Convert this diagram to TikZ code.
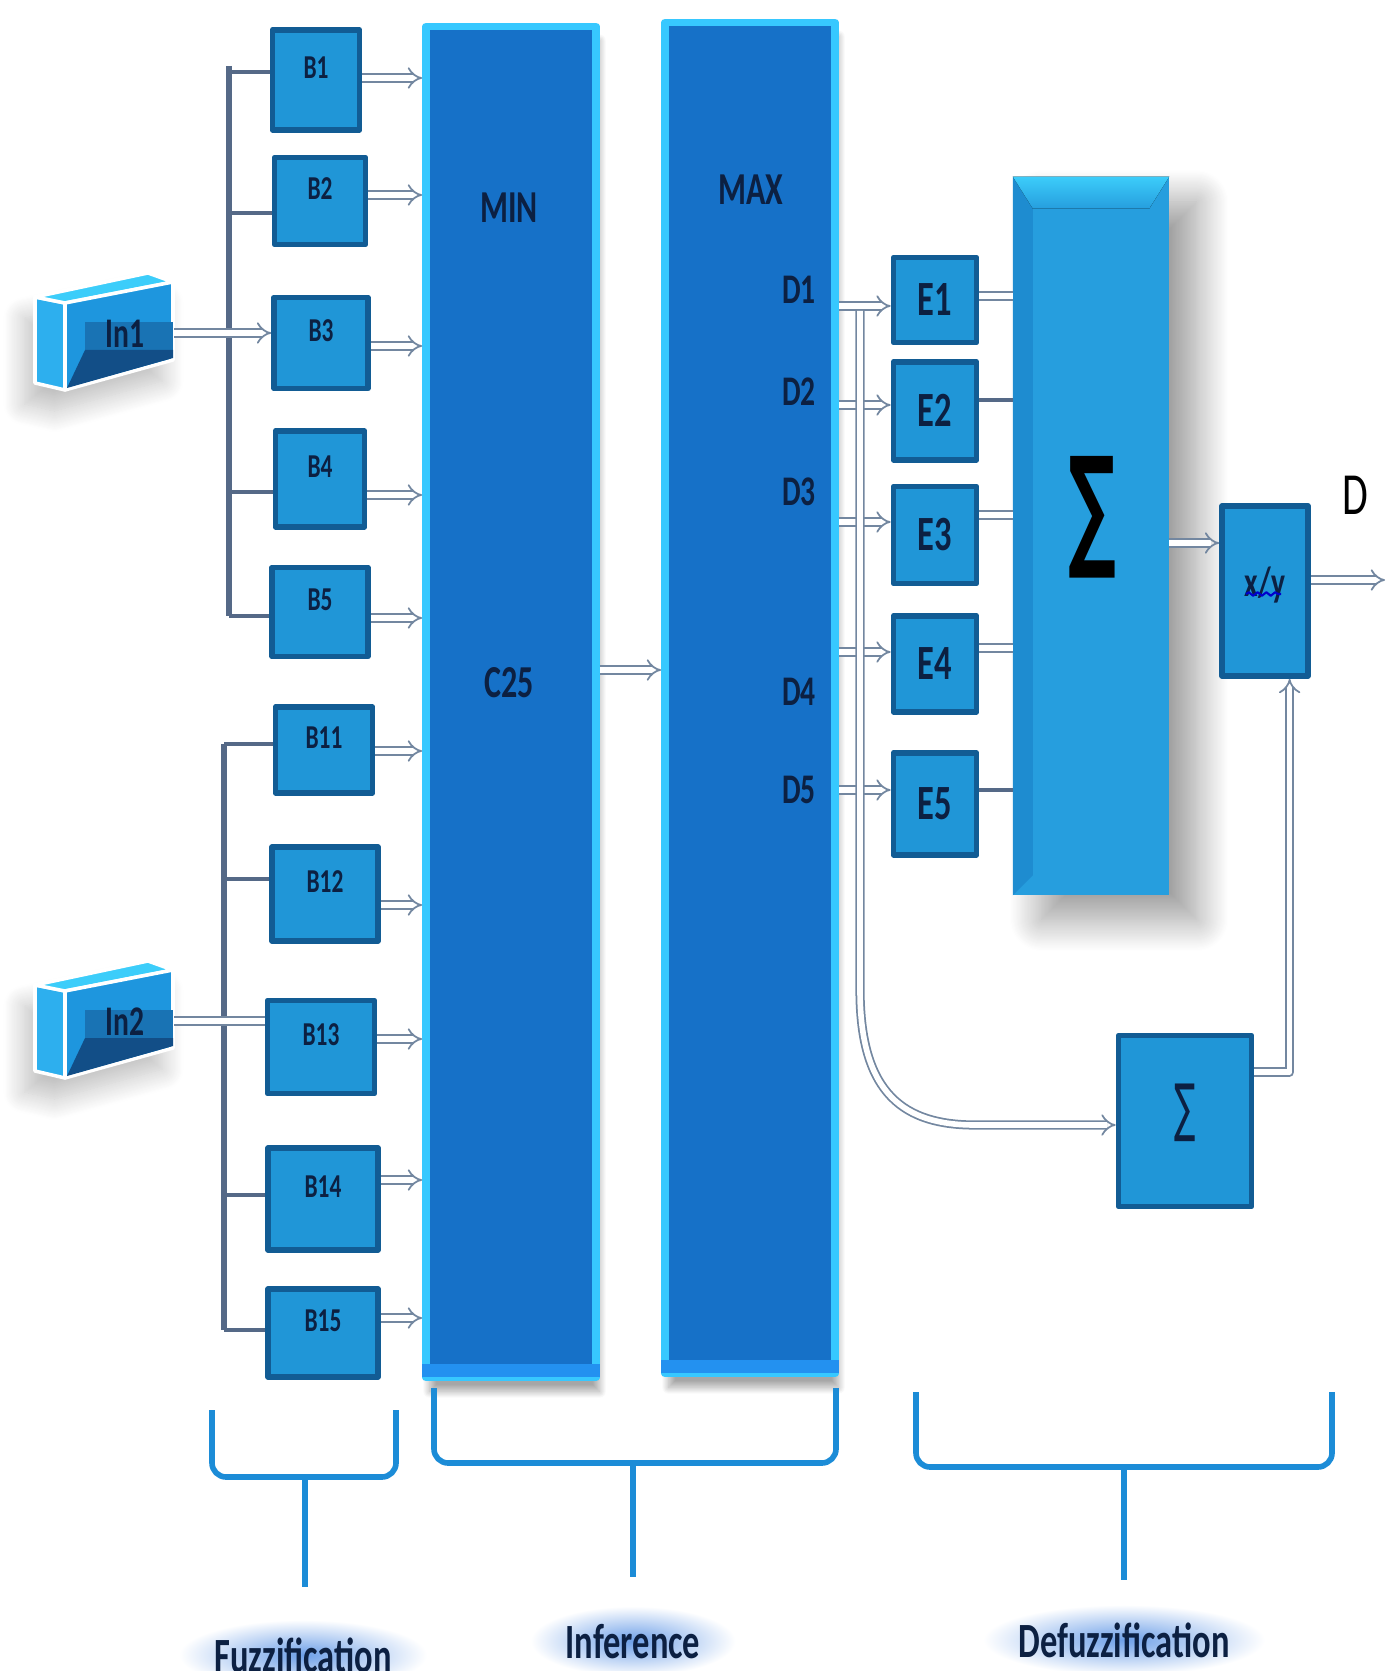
\documentclass[tikz,border=0pt]{standalone}
\usepackage{fontspec}
\setmainfont{Carlito}[FakeStretch=0.7]
\newfontfamily\sigfont{DejaVu Sans}
\usetikzlibrary{arrows.meta,shadows.blur,decorations.pathmorphing}

\definecolor{colfill}{RGB}{22,113,200}
\definecolor{colrim}{RGB}{55,200,255}
\definecolor{colbot}{RGB}{35,145,240}
\definecolor{boxfill}{RGB}{32,150,215}
\definecolor{boxedge}{RGB}{18,92,148}
\definecolor{sigfill}{RGB}{38,158,222}
\definecolor{sigtop}{RGB}{60,205,250}
\definecolor{sigleft}{RGB}{30,140,208}
\definecolor{navy}{RGB}{12,32,66}
\definecolor{arrgray}{RGB}{115,135,160}
\definecolor{busgray}{RGB}{85,105,135}
\definecolor{bracecol}{RGB}{28,140,215}
\definecolor{glow}{RGB}{110,160,232}
\definecolor{inlight}{RGB}{45,175,238}
\definecolor{inface}{RGB}{30,150,222}
\definecolor{inpanel}{RGB}{25,115,180}
\definecolor{indark}{RGB}{18,78,135}

\begin{document}
\begin{tikzpicture}[x=0.01cm,y=-0.01cm,line join=round,
  bbox/.style={draw=boxedge,line width=1.6pt,fill=boxfill,inner sep=0pt,text=navy,
    font=\bfseries\fontsize{9.5}{10}\selectfont,text height=6pt,text depth=7pt},
  ebox/.style={bbox,minimum width=0.83cm,font=\bfseries\fontsize{14}{15}\selectfont,
    text height=9pt,text depth=0pt},
  column/.style={draw=colrim,line width=2.2pt,fill=colfill,minimum width=1.70cm,
    minimum height=13.5cm,blur shadow={shadow xshift=1pt,shadow yshift=-4pt,
    shadow opacity=35,shadow blur steps=20}},
  lab/.style={text=navy,font=\bfseries\fontsize{13}{14}\selectfont,inner sep=1pt},
  dlab/.style={lab,font=\bfseries\fontsize{12}{13}\selectfont},
  dbl/.style={draw=arrgray,double=white,line width=0.5pt,double distance=1.6pt,-{Implies}},
  dbline/.style={draw=arrgray,double=white,line width=0.5pt,double distance=1.6pt},
  branch/.style={draw=busgray,line width=1.2pt},
  brace/.style={draw=bracecol,line width=1.6pt,rounded corners=4pt},
  stage/.style={shade,inner color=glow,outer color=white,text=navy,
    font=\bfseries\fontsize{14}{15}\selectfont,inner xsep=10pt,inner ysep=5pt}]
  \useasboundingbox (0,0) rectangle (1387,1671);

  \node[column] (min) at (511,702) {};
  \node[column] (max) at (750,698) {};
  \fill[colbot] ([yshift=1.1pt]min.south west) rectangle ([yshift=5pt]min.south east);
  \fill[colbot] ([yshift=1.1pt]max.south west) rectangle ([yshift=5pt]max.south east);
  \node[lab] (minlab) at (509,208) {MIN};
  \node[lab] (c25) at (509,683) {C25};
  \node[lab] (maxlab) at (751,190) {MAX};
  \foreach \i/\y in {1/290,2/392,3/492,4/692,5/790}
    \node[dlab] (d\i) at (799,\y) {D\i};
  \draw[dbl] (min.east |- 0,670) -- (max.west |- 0,670);

  \foreach \dy/\nm in {0/1,688/2} {
    \begin{scope}[shift={(0,\dy)}]
      \path[blur shadow={shadow xshift=-3pt,shadow yshift=-6pt,shadow opacity=25,
        shadow blur radius=6pt,shadow blur steps=20}]
        (35,297) -- (148,273) -- (173,282) -- (173,360) -- (65,390) -- (35,383) -- cycle;
      \filldraw[draw=white,line width=1pt,fill=inlight] (35,297) -- (65,303) -- (65,390) -- (35,383) -- cycle;
      \filldraw[draw=white,line width=1pt,fill=sigtop] (35,297) -- (148,273) -- (173,282) -- (65,303) -- cycle;
      \filldraw[draw=white,line width=1pt,fill=inface] (65,303) -- (173,282) -- (173,360) -- (65,390) -- cycle;
      \fill[inpanel] (85,322) rectangle (173,350);
      \fill[indark] (67,388) -- (173,358) -- (173,350) -- (85,350) -- cycle;
      \node[lab,font=\bfseries\fontsize{12}{13}\selectfont] (in\nm-t) at (125,334) {In\nm};
      \coordinate (in\nm) at (174,333);
    \end{scope}
  }

  \foreach \n/\x/\y/\w/\h/\ay in {1/316/80/87/100/78, 2/320/201/91/87/195, 3/321/343/94/91/346,
      4/320/479/89/96/495, 5/320/612/96/89/618, 11/324/750/97/86/751, 12/325/894/106/94/905,
      13/321/1047/107/93/1039, 14/323/1199/110/102/1180, 15/323/1333/110/88/1318} {
    \node[bbox,minimum width=\w*0.01cm,minimum height=\h*0.01cm] (b\n) at (\x,\y) {B\n};
    \draw[dbl] (b\n.east |- 0,\ay) -- (min.west |- 0,\ay);
  }

  \coordinate (bus1) at (229,66);
  \coordinate (bus2) at (224,744);
  \draw[branch,line width=1.6pt] (bus1) -- (bus1 |- 0,616);
  \draw[branch,line width=1.6pt] (bus2) -- (bus2 |- 0,1330);
  \foreach \n/\by in {1/72,2/213,4/492,5/616}
    \draw[branch] (bus1 |- 0,\by) -- (b\n.west |- 0,\by);
  \foreach \n/\by in {11/744,12/879,14/1195,15/1330}
    \draw[branch] (bus2 |- 0,\by) -- (b\n.west |- 0,\by);
  \draw[dbl] (in1) -- (b3.west |- in1);
  \draw[dbline] (in2) -- (b13.west |- in2);

  \node[fill=sigfill,minimum width=1.55cm,minimum height=7.17cm,
    blur shadow={shadow xshift=8pt,shadow yshift=-7pt,shadow opacity=40,
    shadow blur radius=9pt,shadow blur steps=30}] (sig) at (1091,536) {};
  \fill[sigleft] (sig.north west) -- ([shift={(20,32)}]sig.north west) -- ([shift={(20,-20)}]sig.south west) -- (sig.south west) -- cycle;
  \fill[top color=sigtop,bottom color=sigfill] (sig.north west) -- (sig.north east)
    -- ([shift={(-20,32)}]sig.north east) -- ([shift={(20,32)}]sig.north west) -- cycle;
  \node[inner sep=0pt,font=\sigfont\bfseries\fontsize{38}{38}\selectfont] (sigsym) at (1092,517)
    {\scalebox{0.5}[1]{∑}};

  \foreach \i/\y/\h/\dy in {1/300/85/306, 2/411/98/405, 3/535/97/522, 4/664/96/652, 5/804/102/790} {
    \node[ebox,minimum height=\h*0.01cm] (e\i) at (935,\y) {E\i};
    \draw[dbl] (max.east |- 0,\dy) -- (e\i.west |- 0,\dy);
  }
  \foreach \i/\ey in {1/296,3/515,4/648}
    \draw[dbline] (e\i.east |- 0,\ey) -- (sig.west |- 0,\ey);
  \foreach \i/\ey in {2/400,5/790}
    \draw[branch] (e\i.east |- 0,\ey) -- (sig.west |- 0,\ey);

  \node[bbox,minimum width=0.86cm,minimum height=1.70cm,font=\bfseries\fontsize{12}{13}\selectfont,
    text height=8pt,text depth=5pt] (xy) at (1265,591) {x/y};
  \draw[blue!80!black,line width=0.6pt,decorate,decoration={snake,amplitude=0.5pt,segment length=2.5pt}]
    (1246,594) -- (1281,594);
  \node[bbox,minimum width=1.33cm,minimum height=1.71cm] (sig2) at (1185,1121) {};
  \node[inner sep=0pt,text=navy,font=\sigfont\fontsize{18}{18}\selectfont] (sig2sym) at (1185,1113)
    {\scalebox{0.5}[1]{∑}};

  \draw[dbl] (sig.east |- 0,543) -- (xy.west |- 0,543);
  \coordinate (out) at (1385,580);
  \draw[dbl] (xy.east |- out) -- (out);
  \node[inner sep=0pt,font=\fontsize{17}{18}\selectfont] (dout) at (1355,495) {D};
  \draw[dbl] (sig2.east |- 0,1072) -| ([xshift=7pt]xy.south);
  \coordinate (tap) at (860,311);
  \draw[dbl] (tap) -- (860,990) .. controls (860,1095) and (905,1125) .. (975,1125)
    -- (sig2.west |- 0,1125);

  \draw[brace] (212,1410) -- (212,1477) -- (396,1477) -- (396,1410);
  \draw[brace] (305,1477) -- (305,1587);
  \draw[brace] (434,1388) -- (434,1463) -- (836,1463) -- (836,1388);
  \draw[brace] (633,1463) -- (633,1577);
  \draw[brace] (916,1392) -- (916,1467) -- (1332,1467) -- (1332,1392);
  \draw[brace] (1124,1467) -- (1124,1580);
  \node[stage,anchor=base] (fuzz) at (303,1672) {Fuzzification};
  \node[stage,anchor=base] (infer) at (633,1658) {Inference};
  \node[stage,anchor=base] (defuzz) at (1124,1657) {Defuzzification};
\end{tikzpicture}
\end{document}
